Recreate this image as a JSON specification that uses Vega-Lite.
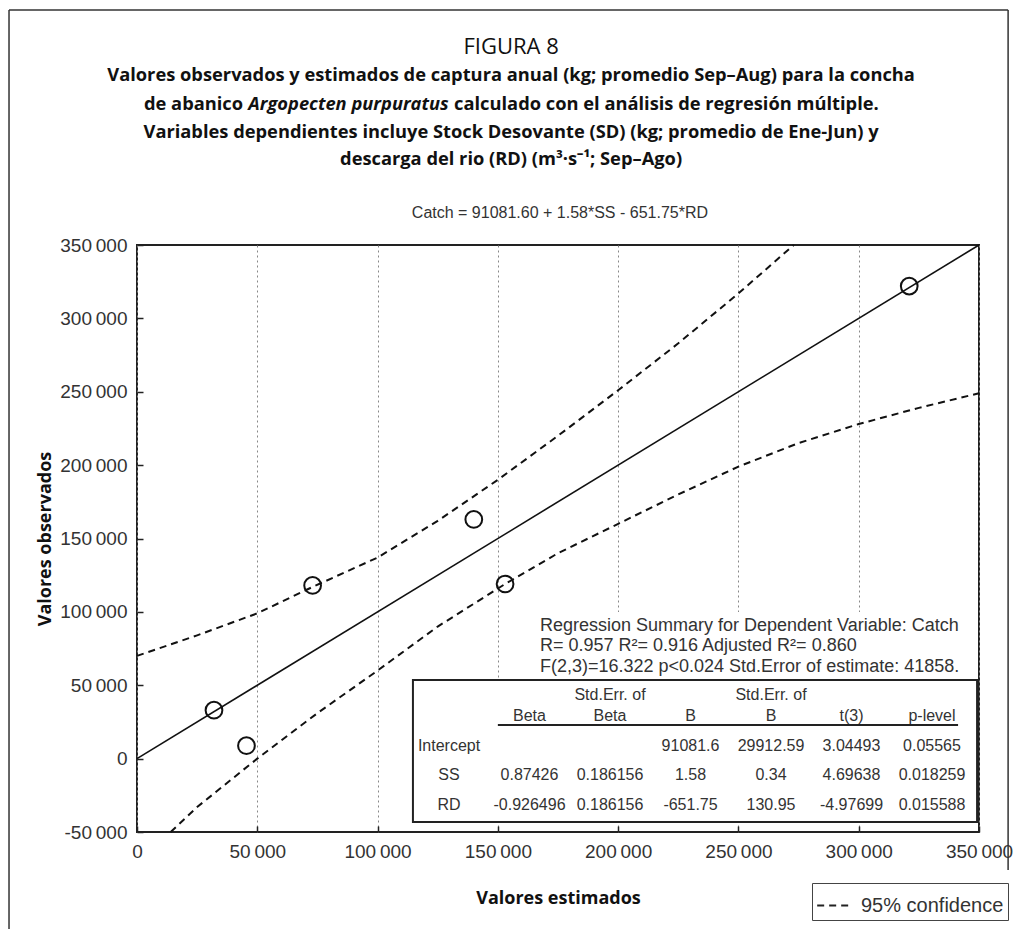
{
  "$schema": "https://vega.github.io/schema/vega-lite/v6.json",
  "width": 842,
  "height": 587,
  "autosize": {"type": "none"},
  "padding": {"left": 137, "top": 245, "right": 42, "bottom": 97},
  "background": "white",
  "config": {"view": {"stroke": "#222", "strokeWidth": 2}, "font": "Liberation Sans"},
  "datasets": {
    "one": [{}],
    "fit": [{"est": 0, "obs": 0}, {"est": 350000, "obs": 350000}],
    "points": [
      {"est": 321000, "obs": 322000},
      {"est": 140000, "obs": 163000},
      {"est": 73000, "obs": 118000},
      {"est": 153000, "obs": 119000},
      {"est": 32000, "obs": 33000},
      {"est": 45500, "obs": 8800}
    ],
    "band": [
      {"limit": "upper", "kind": "95% confidence", "est": 0, "obs": 70000},
      {"limit": "upper", "kind": "95% confidence", "est": 25000, "obs": 84000},
      {"limit": "upper", "kind": "95% confidence", "est": 50000, "obs": 99000},
      {"limit": "upper", "kind": "95% confidence", "est": 73000, "obs": 117000},
      {"limit": "upper", "kind": "95% confidence", "est": 100000, "obs": 137000},
      {"limit": "upper", "kind": "95% confidence", "est": 125000, "obs": 162000},
      {"limit": "upper", "kind": "95% confidence", "est": 150000, "obs": 190000},
      {"limit": "upper", "kind": "95% confidence", "est": 175000, "obs": 220000},
      {"limit": "upper", "kind": "95% confidence", "est": 200000, "obs": 251000},
      {"limit": "upper", "kind": "95% confidence", "est": 225000, "obs": 283000},
      {"limit": "upper", "kind": "95% confidence", "est": 250000, "obs": 317000},
      {"limit": "upper", "kind": "95% confidence", "est": 273000, "obs": 350000},
      {"limit": "lower", "kind": "95% confidence", "est": 14000, "obs": -50000},
      {"limit": "lower", "kind": "95% confidence", "est": 25000, "obs": -33000},
      {"limit": "lower", "kind": "95% confidence", "est": 50000, "obs": 0},
      {"limit": "lower", "kind": "95% confidence", "est": 75000, "obs": 31000},
      {"limit": "lower", "kind": "95% confidence", "est": 100000, "obs": 60000},
      {"limit": "lower", "kind": "95% confidence", "est": 125000, "obs": 90000},
      {"limit": "lower", "kind": "95% confidence", "est": 153000, "obs": 119000},
      {"limit": "lower", "kind": "95% confidence", "est": 175000, "obs": 140000},
      {"limit": "lower", "kind": "95% confidence", "est": 200000, "obs": 160000},
      {"limit": "lower", "kind": "95% confidence", "est": 225000, "obs": 180000},
      {"limit": "lower", "kind": "95% confidence", "est": 250000, "obs": 199000},
      {"limit": "lower", "kind": "95% confidence", "est": 275000, "obs": 215000},
      {"limit": "lower", "kind": "95% confidence", "est": 300000, "obs": 228000},
      {"limit": "lower", "kind": "95% confidence", "est": 325000, "obs": 239000},
      {"limit": "lower", "kind": "95% confidence", "est": 350000, "obs": 249000}
    ],
    "table": [
      {"r": "hdr", "c": "Beta", "t": "Beta"},
      {"r": "hdr", "c": "SEBeta", "t": "Std.Err. of\nBeta"},
      {"r": "hdr", "c": "B", "t": "B"},
      {"r": "hdr", "c": "SEB", "t": "Std.Err. of\nB"},
      {"r": "hdr", "c": "t", "t": "t(3)"},
      {"r": "hdr", "c": "p", "t": "p-level"},
      {"r": "Intercept", "c": "lbl", "t": "Intercept"},
      {"r": "Intercept", "c": "B", "t": "91081.6"},
      {"r": "Intercept", "c": "SEB", "t": "29912.59"},
      {"r": "Intercept", "c": "t", "t": "3.04493"},
      {"r": "Intercept", "c": "p", "t": "0.05565"},
      {"r": "SS", "c": "lbl", "t": "SS"},
      {"r": "SS", "c": "Beta", "t": "0.87426"},
      {"r": "SS", "c": "SEBeta", "t": "0.186156"},
      {"r": "SS", "c": "B", "t": "1.58"},
      {"r": "SS", "c": "SEB", "t": "0.34"},
      {"r": "SS", "c": "t", "t": "4.69638"},
      {"r": "SS", "c": "p", "t": "0.018259"},
      {"r": "RD", "c": "lbl", "t": "RD"},
      {"r": "RD", "c": "Beta", "t": "-0.926496"},
      {"r": "RD", "c": "SEBeta", "t": "0.186156"},
      {"r": "RD", "c": "B", "t": "-651.75"},
      {"r": "RD", "c": "SEB", "t": "130.95"},
      {"r": "RD", "c": "t", "t": "-4.97699"},
      {"r": "RD", "c": "p", "t": "0.015588"}
    ]
  },
  "layer": [
    {
      "layer": [
        {
          "data": {"name": "fit"},
          "mark": {"type": "line", "color": "#111", "strokeWidth": 1.6},
          "encoding": {
            "x": {
              "field": "est", "type": "quantitative",
              "scale": {"domain": [0, 350000], "nice": false, "zero": false},
              "axis": {
                "title": "Valores estimados",
                "values": [0, 50000, 100000, 150000, 200000, 250000, 300000, 350000],
                "labelExpr": "replace(replace(format(datum.value, ','), regexp(',', 'g'), '\u2009'), '\u2212', '-')",
                "labelFont": "Liberation Sans", "labelFontSize": 19, "labelColor": "#333",
                "labelPadding": 16, "labelFlush": false, "labelOverlap": false,
                "ticks": true, "tickSize": -6, "tickColor": "#222", "tickWidth": 1.5, "domain": false,
                "grid": true, "gridDash": [2, 3], "gridColor": "#888", "gridWidth": 1,
                "titleFont": "Open Sans", "titleFontSize": 18, "titleFontWeight": "bold",
                "titleColor": "#111", "titlePadding": 28
              }
            },
            "y": {
              "field": "obs", "type": "quantitative",
              "scale": {"domain": [-50000, 350000], "nice": false, "zero": false},
              "axis": {
                "title": "Valores observados",
                "values": [-50000, 0, 50000, 100000, 150000, 200000, 250000, 300000, 350000],
                "labelExpr": "replace(replace(format(datum.value, ','), regexp(',', 'g'), '\u2009'), '\u2212', '-')",
                "labelFont": "Liberation Sans", "labelFontSize": 19, "labelColor": "#333",
                "labelPadding": 16, "labelOverlap": false, "labelFlush": false,
                "ticks": true, "tickSize": -6, "tickColor": "#222", "tickWidth": 1.5, "domain": false, "grid": false,
                "titleFont": "Open Sans", "titleFontSize": 18, "titleFontWeight": "bold",
                "titleColor": "#111", "titlePadding": 5
              }
            }
          }
        },
        {
          "data": {"name": "band"},
          "mark": {"type": "line", "color": "#111", "strokeWidth": 2},
          "encoding": {
            "x": {"field": "est", "type": "quantitative"},
            "y": {"field": "obs", "type": "quantitative"},
            "detail": {"field": "limit"},
            "strokeDash": {
              "field": "kind", "type": "nominal",
              "scale": {"range": [[7, 5]]},
              "legend": {
                "orient": "none", "legendX": 675, "legendY": 638, "title": null,
                "strokeColor": "#444", "fillColor": "white", "padding": 4,
                "labelFont": "Liberation Sans", "labelFontSize": 20, "labelColor": "#333",
                "labelOffset": 8, "symbolType": "stroke", "symbolSize": 1200,
                "symbolStrokeWidth": 2, "symbolStrokeColor": "#222"
              }
            }
          }
        },
        {
          "data": {"name": "points"},
          "mark": {"type": "point", "shape": "circle", "filled": false, "color": "#111", "strokeWidth": 2, "size": 280, "opacity": 1},
          "encoding": {
            "x": {"field": "est", "type": "quantitative"},
            "y": {"field": "obs", "type": "quantitative"}
          }
        },
        {
          "data": {"name": "one"},
          "mark": {"type": "rect", "fill": "white", "stroke": null},
          "encoding": {
            "x": {"datum": 165000}, "x2": {"datum": 349200},
            "y": {"datum": 100000}, "y2": {"datum": 53600}
          }
        },
        {
          "data": {"name": "one"},
          "mark": {"type": "rect", "fill": "white", "stroke": "#222", "strokeWidth": 2},
          "encoding": {
            "x": {"datum": 114700}, "x2": {"datum": 349200},
            "y": {"datum": 53600}, "y2": {"datum": -43200}
          }
        },
        {
          "data": {"name": "one"},
          "mark": {"type": "rule", "color": "#222", "strokeWidth": 2},
          "encoding": {
            "x": {"datum": 150000}, "x2": {"datum": 341300},
            "y": {"datum": 22900}
          }
        },
        {
          "data": {"name": "one"},
          "mark": {"type": "text", "font": "Liberation Sans", "fontSize": 18, "color": "#333", "align": "left", "baseline": "middle", "lineHeight": 20.5},
          "encoding": {
            "x": {"datum": 167500}, "y": {"datum": 90400},
            "text": {"value": ["Regression Summary for Dependent Variable: Catch", "R= 0.957 R²= 0.916 Adjusted R²= 0.860", "F(2,3)=16.322 p<0.024 Std.Error of estimate: 41858."]}
          }
        },
        {
          "data": {"name": "one"},
          "mark": {"type": "text", "font": "Liberation Sans", "fontSize": 16, "color": "#333", "align": "center", "baseline": "middle"},
          "encoding": {
            "x": {"datum": 175800}, "y": {"datum": 371800},
            "text": {"value": "Catch = 91081.60 + 1.58*SS - 651.75*RD"}
          }
        },
        {
          "data": {"name": "one"},
          "mark": {"type": "text", "font": "Open Sans", "fontSize": 22, "color": "#111", "align": "center", "baseline": "middle"},
          "encoding": {
            "x": {"datum": 155500}, "y": {"datum": 484900},
            "text": {"value": "FIGURA 8"}
          }
        },
        {
          "data": {"name": "one"},
          "mark": {"type": "text", "font": "Open Sans", "fontSize": 18.3, "fontWeight": "bold", "color": "#111", "align": "center", "baseline": "middle"},
          "encoding": {
            "x": {"datum": 155500}, "y": {"datum": 465100},
            "text": {"value": "Valores observados y estimados de captura anual (kg; promedio Sep–Aug) para la concha"}
          }
        },
        {
          "data": {"name": "one"},
          "mark": {"type": "text", "font": "Open Sans", "fontSize": 18.3, "fontWeight": "bold", "color": "#111", "align": "right", "baseline": "middle"},
          "encoding": {
            "x": {"datum": 44100}, "y": {"datum": 445400},
            "text": {"value": "de abanico"}
          }
        },
        {
          "data": {"name": "one"},
          "mark": {"type": "text", "font": "Open Sans", "fontSize": 18.3, "fontWeight": "bold", "fontStyle": "italic", "color": "#111", "align": "center", "baseline": "middle"},
          "encoding": {
            "x": {"datum": 87900}, "y": {"datum": 445400},
            "text": {"value": "Argopecten purpuratus"}
          }
        },
        {
          "data": {"name": "one"},
          "mark": {"type": "text", "font": "Open Sans", "fontSize": 18.3, "fontWeight": "bold", "color": "#111", "align": "left", "baseline": "middle"},
          "encoding": {
            "x": {"datum": 131800}, "y": {"datum": 445400},
            "text": {"value": "calculado con el análisis de regresión múltiple."}
          }
        },
        {
          "data": {"name": "one"},
          "mark": {"type": "text", "font": "Open Sans", "fontSize": 18.3, "fontWeight": "bold", "color": "#111", "align": "center", "baseline": "middle"},
          "encoding": {
            "x": {"datum": 155500}, "y": {"datum": 426300},
            "text": {"value": "Variables dependientes incluye Stock Desovante (SD) (kg; promedio de Ene-Jun) y"}
          }
        },
        {
          "data": {"name": "one"},
          "mark": {"type": "text", "font": "Open Sans", "fontSize": 18.3, "fontWeight": "bold", "color": "#111", "align": "center", "baseline": "middle"},
          "encoding": {
            "x": {"datum": 155500}, "y": {"datum": 407900},
            "text": {"value": "descarga del rio (RD) (m³·s⁻¹; Sep–Ago)"}
          }
        },
        {
          "data": {"name": "one"},
          "mark": {"type": "rule", "color": "#333", "strokeWidth": 1.5},
          "encoding": {"x": {"datum": -53200}, "y": {"datum": 510100}, "y2": {"datum": -116500}}
        },
        {
          "data": {"name": "one"},
          "mark": {"type": "rule", "color": "#333", "strokeWidth": 1.5},
          "encoding": {"x": {"datum": -53200}, "x2": {"datum": 362100}, "y": {"datum": 510100}}
        },
        {
          "data": {"name": "one"},
          "mark": {"type": "rule", "color": "#333", "strokeWidth": 1.5},
          "encoding": {"x": {"datum": 362100}, "y": {"datum": 510100}, "y2": {"datum": -75900}}
        }
      ]
    },
    {
      "data": {"name": "table"},
      "encoding": {
        "x": {"field": "c", "type": "nominal", "sort": ["lbl", "Beta", "SEBeta", "B", "SEB", "t", "p"], "scale": {"type": "point", "range": [312, 795], "padding": 0}, "axis": null},
        "y": {"field": "r", "type": "nominal", "sort": ["hdr", "Intercept", "SS", "RD"], "scale": {"type": "point", "range": [479, 568], "padding": 0}, "axis": null},
        "text": {"field": "t"}
      },
      "layer": [
        {
          "transform": [{"filter": "indexof(datum.t, '\\n') < 0"}],
          "mark": {"type": "text", "font": "Liberation Sans", "fontSize": 16, "color": "#333", "align": "center", "baseline": "bottom"}
        },
        {
          "transform": [{"filter": "indexof(datum.t, '\\n') >= 0"}],
          "mark": {"type": "text", "font": "Liberation Sans", "fontSize": 16, "color": "#333", "align": "center", "baseline": "bottom", "lineBreak": "\n", "lineHeight": 21, "dy": -21}
        }
      ]
    }
  ],
  "resolve": {"scale": {"x": "independent", "y": "independent"}}
}
